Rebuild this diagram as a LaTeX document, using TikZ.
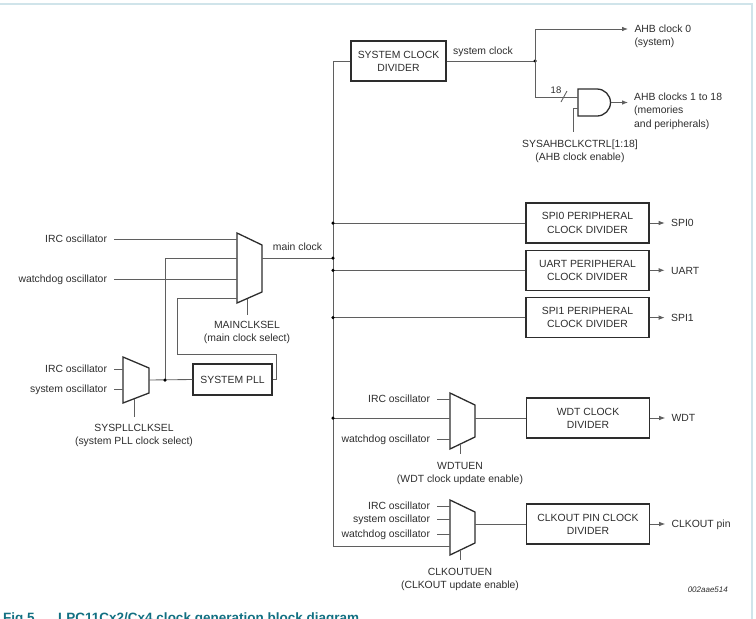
\documentclass[tikz,border=0pt]{standalone}
\usepackage{fontspec}
\setmainfont{Liberation Sans}
\usetikzlibrary{arrows.meta,positioning}
\definecolor{inkgray}{RGB}{45,45,45}
\definecolor{wiregray}{RGB}{95,95,95}
\definecolor{frameblue}{RGB}{208,228,234}
\definecolor{captionteal}{RGB}{18,112,130}

\begin{document}
\begin{tikzpicture}[x=1pt, y=-1pt, font=\fontsize{10.4}{13.2}\selectfont,
    every node/.style={text=inkgray},
    block/.style={draw=inkgray, line width=1.3pt, align=center, inner sep=0pt},
    divider/.style={block, minimum width=123pt, minimum height=40pt},
    wire/.style={wiregray, line width=0.85pt},
    feed/.style={wire, -{Latex[length=6pt, width=4.6pt]}},
    mux/.style={draw=inkgray, line width=1.3pt, line join=miter},
    lbl/.style={inner sep=0pt, align=center},
    inlbl/.style={inner sep=0pt, text height=7.5pt, text depth=0pt, anchor=east, outer xsep=7pt},
    outlbl/.style={inner sep=0pt, text height=7.5pt, text depth=0pt, anchor=west, outer xsep=6.5pt},
    junct/.style={circle, fill=black, inner sep=0pt, minimum size=3.5pt},
  ]
  \useasboundingbox (0,0) rectangle (756,619);
  \draw[frameblue, line width=2pt] (-3,4) rectangle (752,640);

  \node[block, minimum width=95pt, minimum height=40pt] (sysdiv) at (398.5,61) {SYSTEM CLOCK\\DIVIDER};
  \node[block, minimum width=79pt, minimum height=31pt] (pll) at (232.5,379.5) {SYSTEM PLL};
  \node[divider] (spi0) at (587.5,223) {SPI0 PERIPHERAL\\CLOCK DIVIDER};
  \node[divider, below=6pt of spi0] (uart) {UART PERIPHERAL\\CLOCK DIVIDER};
  \node[divider, below=6pt of uart] (spi1) {SPI1 PERIPHERAL\\CLOCK DIVIDER};
  \node[divider] (wdt) at (588,418) {WDT CLOCK\\DIVIDER};
  \node[divider] (clkout) at (588,524) {CLKOUT PIN CLOCK\\DIVIDER};

  \draw[mux] (237,233) coordinate (mmux) -- ++(25,12) -- ++(0,47) -- ++(-25,11) -- cycle;
  \draw[mux] (123,357) coordinate (pmux) -- ++(26,11) -- ++(0,25) -- ++(-26,10) -- cycle;
  \draw[mux] (450,393) coordinate (wmux) -- ++(25,12) -- ++(0,32) -- ++(-25,12) -- cycle;
  \draw[mux] (450,500) coordinate (cmux) -- ++(25,12) -- ++(0,31) -- ++(-25,12) -- cycle;
  \draw[mux] (578,89) coordinate (ahbgate) -- ++(19,0) arc[start angle=90, end angle=-90, radius=13.5pt] -- ++(-19,0) -- cycle;

  \coordinate (bustop) at (333,61);
  \coordinate (busbot) at (333,546);
  \coordinate (sysj) at (535,61);
  \coordinate (pllj) at (165,380);
  \draw[wire] (sysdiv.west) -- (bustop) -- (busbot) -- (busbot -| cmux);

  \draw[wire] (sysdiv.east) -- (sysj) node[junct] {};
  \node[lbl, anchor=base west] (sysclk) at (453,54) {system clock};
  \draw[feed] (sysj) |- (628,29) node[outlbl, anchor=north west, yshift=4.5pt, align=left, text height=, text depth=] (ahb0) {AHB clock 0\\(system)};
  \draw[wire] (sysj) |- (578,97);
  \draw[wire] (561,102) -- (567,91);
  \node[lbl, anchor=base, font=\fontsize{9.5}{11}\selectfont] (bits) at (556,93) {18};
  \draw[wire] (578,108) -- (573,108) -- (573,132);
  \node[lbl, anchor=north] (ahben) at (580,140) {SYSAHBCLKCTRL[1:18]\\(AHB clock enable)};
  \draw[feed] (610.5,102.5) -- (628,102.5);
  \node[lbl, anchor=north west, align=left] (ahbn) at (634,93) {AHB clocks 1 to 18\\(memories\\and peripherals)};

  \node[inlbl] (ircm) at (114,239) {IRC oscillator};
  \node[inlbl] (wdom) at (114,279) {watchdog oscillator};
  \draw[wire] (ircm.east) -- (ircm -| mmux);
  \draw[wire] (wdom.east) -- (wdom -| mmux);
  \draw[wire] (pllj) |- (237,258);
  \draw[wire] (pll.east) -- ++(4,0) |- (177,354) |- (237,298);
  \draw[wire] (262,258) -- node[lbl, above=7pt] (mclk) {main clock} (333,258) node[junct] {};
  \draw[wire] (247,298.6) -- (247,315);
  \node[lbl, anchor=north] (mainsel) at (247,321) {MAINCLKSEL\\(main clock select)};

  \node[inlbl] (ircp) at (114,369) {IRC oscillator};
  \node[inlbl] (sysop) at (114,389) {system oscillator};
  \draw[wire] (ircp.east) -- (ircp -| pmux);
  \draw[wire] (sysop.east) -- (sysop -| pmux);
  \draw[wire] (149,380) -- (pll.west);
  \node[junct] at (pllj) {};
  \draw[wire] (134,398.8) -- (134,417);
  \node[lbl, anchor=north] (pllsel) at (134,424) {SYSPLLCLKSEL\\(system PLL clock select)};

  \draw[wire] (spi0.west) -- (spi0.west -| bustop) node[junct] {};
  \draw[wire] (uart.west) -- (uart.west -| bustop) node[junct] {};
  \draw[wire] (spi1.west) -- (spi1.west -| bustop) node[junct] {};
  \draw[feed] (spi0.east) -- ++(15,0) node[outlbl] (spi0out) {SPI0};
  \draw[feed] (uart.east) -- ++(15,0) node[outlbl] (uartout) {UART};
  \draw[feed] (spi1.east) -- ++(15,0) node[outlbl] (spi1out) {SPI1};

  \node[inlbl] (ircw) at (437,399) {IRC oscillator};
  \node[inlbl] (wdow) at (437,439) {watchdog oscillator};
  \draw[wire] (ircw.east) -- (ircw -| wmux);
  \draw[wire] (wdow.east) -- (wdow -| wmux);
  \draw[wire] (333,418) node[junct] {} -- (450,418);
  \draw[wire] (475,418) -- (wdt.west);
  \draw[feed] (wdt.east) -- ++(15,0) node[outlbl] (wdtout) {WDT};
  \draw[wire] (460,444.2) -- (460,454);
  \node[lbl, anchor=north] (wdtuen) at (460,462) {WDTUEN\\(WDT clock update enable)};

  \node[inlbl] (ircc) at (437,506) {IRC oscillator};
  \node[inlbl] (sysoc) at (437,519) {system oscillator};
  \node[inlbl] (wdoc) at (437,534) {watchdog oscillator};
  \draw[wire] (ircc.east) -- (ircc -| cmux);
  \draw[wire] (sysoc.east) -- (sysoc -| cmux);
  \draw[wire] (wdoc.east) -- (wdoc -| cmux);
  \draw[wire] (475,524) -- (clkout.west);
  \draw[feed] (clkout.east) -- ++(15,0) node[outlbl] (pinout) {CLKOUT pin};
  \draw[wire] (460,550.2) -- (460,560);
  \node[lbl, anchor=north] (clkuen) at (460,568) {CLKOUTUEN\\(CLKOUT update enable)};

  \node[lbl, anchor=base east, font=\fontsize{8}{10}\selectfont\itshape] (docid) at (728,592) {002aae514};
  \node[anchor=base west, inner sep=0pt, text=captionteal, font=\fontsize{13.5}{16}\selectfont\bfseries] (caption) at (3,622.5) {\makebox[55pt][l]{Fig 5.}LPC11Cx2/Cx4 clock generation block diagram};
\end{tikzpicture}
\end{document}
